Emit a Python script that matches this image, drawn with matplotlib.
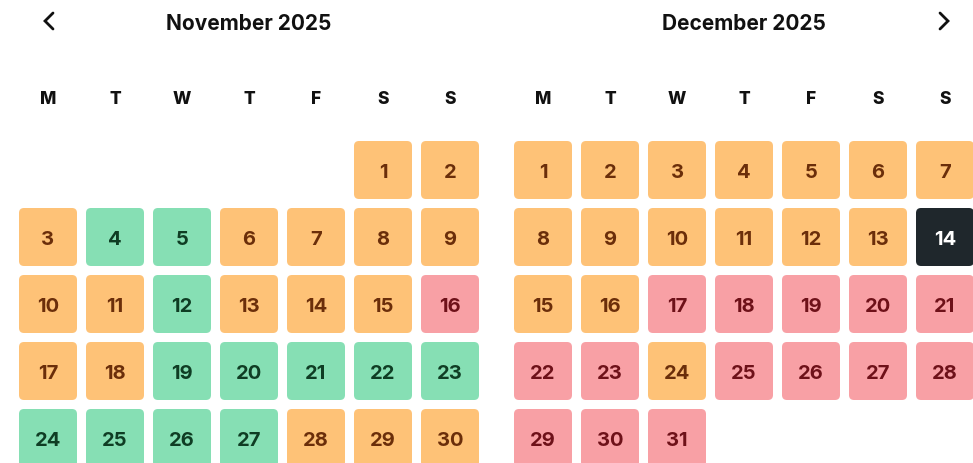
import matplotlib
matplotlib.use('Agg')
import matplotlib.pyplot as plt
from matplotlib.patches import FancyBboxPatch

# ---- data ----
months = ["November 2025", "December 2025"]
weekdays = ["M", "T", "W", "T", "F", "S", "S"]
first_weekday = [5, 0]   # Nov 1 = Saturday, Dec 1 = Monday
# O = orange, G = green, P = pink, S = selected
nov_status = ["O", "O", "O", "G", "G", "O", "O", "O", "O", "O",
              "O", "G", "O", "O", "O", "P", "O", "O", "G", "G",
              "G", "G", "G", "G", "G", "G", "G", "O", "O", "O"]
dec_status = ["O", "O", "O", "O", "O", "O", "O", "O", "O", "O",
              "O", "O", "O", "S", "O", "O", "P", "P", "P", "P",
              "P", "P", "P", "O", "P", "P", "P", "P", "P", "P", "P"]
statuses = [nov_status, dec_status]

fill = {"O": "#fec277", "G": "#86dfb4", "P": "#f8a0a5", "S": "#1f272c"}
ink = {"O": "#6b2e0a", "G": "#0f3d24", "P": "#6e1119", "S": "#ffffff"}

FONT = ["Inter", "DejaVu Sans"]

fig = plt.figure(figsize=(9.73, 4.64), dpi=100)
ax = fig.add_axes([0, 0, 1, 1])
ax.set_xlim(0, 973)
ax.set_ylim(464, 0)
ax.axis("off")

x0 = [48, 543]     # centre of Monday column for each month
step = 67
cell = 58
row_top = 171      # centre of first week row
header_y = 99.5

for m, name in enumerate(months):
    col_centres = [x0[m] + i * step for i in range(7)]
    ax.text((col_centres[0] + col_centres[-1]) / 2, 23.5, name, ha="center", va="center",
            fontsize=15, fontweight="bold", family=FONT, color="#111111")
    for i, wd in enumerate(weekdays):
        ax.text(col_centres[i], header_y, wd, ha="center", va="center",
                fontsize=12.5, fontweight="heavy", family=FONT, color="#111111")
    for d, st in enumerate(statuses[m]):
        pos = first_weekday[m] + d
        r, c = divmod(pos, 7)
        cx = col_centres[c]
        cy = row_top + r * step
        ax.add_patch(FancyBboxPatch((cx - cell / 2 + 5, cy - cell / 2 + 5), cell - 10, cell - 10,
                                    boxstyle="round,pad=5", fc=fill[st], ec="none"))
        ax.text(cx, cy + 2, str(d + 1), ha="center", va="center", fontsize=14.5,
                fontweight="bold", family=FONT, color=ink[st])

# navigation arrows
ax.plot([53, 45, 53], [14, 22, 30], color="#111111", lw=2, solid_capstyle="round",
        solid_joinstyle="miter")
ax.plot([940, 948, 940], [14, 22, 30], color="#111111", lw=2, solid_capstyle="round",
        solid_joinstyle="miter")

fig.savefig("out.png", dpi=100)
